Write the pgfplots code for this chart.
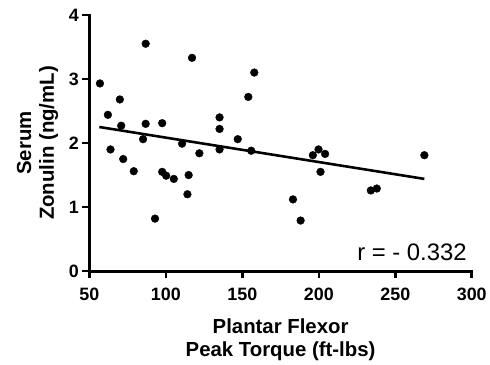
\documentclass[border=0pt]{standalone}
\usepackage{fontspec}
\setmainfont{Liberation Sans}
\usepackage{pgfplots}
\pgfplotsset{compat=1.18}

\begin{document}
\begin{tikzpicture}[x=1pt,y=1pt]
\begin{axis}[
  scale only axis,
  width=385pt, height=258pt,
  xmin=50, xmax=300, ymin=0, ymax=4,
  xtick={50,100,...,300}, ytick={0,1,2,3,4},
  axis x line=bottom, axis y line=left,
  axis line style={-, line width=2.8pt, line cap=rect},
  tick align=outside,
  major tick length=7pt,
  tick style={line width=2.6pt, black},
  /pgf/number format/assume math mode=true,
  ticklabel style={font=\fontsize{18}{18}\selectfont\bfseries},
  xticklabel style={yshift=-6pt},
  yticklabel style={xshift=0pt},
  xlabel={Plantar Flexor\\Peak Torque (ft-lbs)},
  ylabel={Serum\\Zonulin (ng/mL)},
  label style={font=\fontsize{20.5}{23}\selectfont\bfseries, align=center},
  xlabel style={yshift=-12pt},
  ylabel style={yshift=4pt},
  clip=false,
]
% individual subjects
\addplot[only marks, mark=*, mark size=3.9pt, black] coordinates {
  (56.9,2.93) (62.1,2.44) (63.8,1.90) (69.9,2.68) (70.8,2.27)
  (72.1,1.75) (79.0,1.56) (85.1,2.06) (86.8,2.30) (86.8,3.55)
  (92.9,0.82) (97.6,2.31) (97.6,1.55) (100.2,1.49) (105.2,1.44)
  (110.6,1.99) (114.1,1.20) (114.9,1.50) (117.1,3.33) (121.9,1.84)
  (135.1,2.40) (135.1,2.22) (135.1,1.90) (147.0,2.06) (153.9,2.72)
  (155.8,1.88) (157.8,3.10) (183.1,1.12) (188.1,0.79) (196.1,1.81)
  (199.8,1.90) (204.1,1.83) (201.1,1.55) (234.0,1.26) (237.9,1.29)
  (269.0,1.81)
};
% linear fit
\addplot[black, line width=2.6pt] coordinates {(56.5,2.25) (269,1.44)};
\node[anchor=base east, font=\fontsize{24}{24}\selectfont, inner sep=0pt]
  at (rel axis cs:0.987,0.043) {r = - 0.332};
\end{axis}
\path (current axis.origin) ++(-90pt,-89pt) coordinate (bbsw);
\useasboundingbox (bbsw) rectangle ++(490pt,362pt);
\end{tikzpicture}
\end{document}
